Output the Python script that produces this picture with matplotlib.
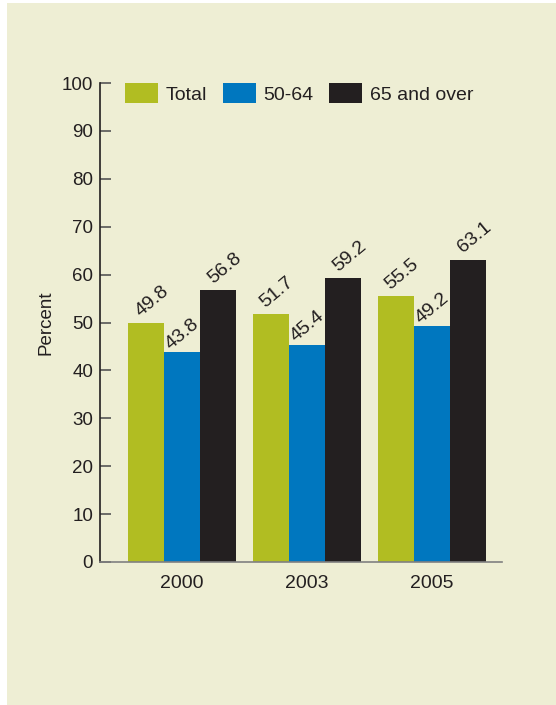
import matplotlib
matplotlib.use("Agg")
import matplotlib.pyplot as plt
import matplotlib.patches as mpatches
import numpy as np

plt.rcParams['font.family'] = ['Liberation Sans', 'DejaVu Sans']

years = ["2000", "2003", "2005"]
series_names = ["Total", "50-64", "65 and over"]
total = [49.8, 51.7, 55.5]
age_50_64 = [43.8, 45.4, 49.2]
age_65_over = [56.8, 59.2, 63.1]
yticks = [0, 10, 20, 30, 40, 50, 60, 70, 80, 90, 100]

colors = ["#B1BD22", "#0077BF", "#231F20"]
bg = "#EEEED4"
txt = "#231F20"

fig = plt.figure(figsize=(5.56, 7.05), dpi=100)
fig.patch.set_facecolor("white")
fig.patches.append(mpatches.Rectangle((7 / 556, 0), 1 - 7 / 556, 1 - 3 / 705,
                                      transform=fig.transFigure, facecolor=bg,
                                      edgecolor="none", zorder=-10))

ax = fig.add_axes([100 / 556, 1 - 562 / 705, 402 / 556, 479 / 705])
ax.set_facecolor(bg)
ax.patch.set_alpha(0)

x = np.arange(len(years))
w = 0.288
offsets = [(6, 22), (0, 18), (7, 22)]
for i, vals in enumerate([total, age_50_64, age_65_over]):
    bars = ax.bar(x + (i - 1) * w, vals, w, color=colors[i], label=series_names[i])
    for b, v in zip(bars, vals):
        ax.annotate(f"{v:.1f}", (b.get_x() + b.get_width() / 2, v),
                    xytext=offsets[i], textcoords="offset pixels",
                    ha="center", va="center", rotation=40,
                    fontsize=14, color=txt)

ax.set_xlim(-0.656, 2.56)
ax.set_ylim(0, 100)
ax.set_yticks(yticks)
ax.set_xticks(x)
ax.set_xticklabels(years)
ax.tick_params(axis="y", direction="in", length=8, width=1.2, color="#555555",
               labelsize=13.5, labelcolor=txt, pad=5)
ax.tick_params(axis="x", length=0, labelsize=14, labelcolor=txt, pad=9)

for s in ["top", "right"]:
    ax.spines[s].set_visible(False)
ax.spines["left"].set_color(txt)
ax.spines["left"].set_linewidth(1.2)
ax.spines["bottom"].set_color("#808080")
ax.spines["bottom"].set_linewidth(1.2)

ax.set_ylabel("Percent", fontsize=13.5, color=txt, labelpad=5)

leg = ax.legend(loc="upper left", bbox_to_anchor=(25 / 402, 1.0), ncol=3, frameon=False,
                fontsize=14, handlelength=1.7, handleheight=1.2, handletextpad=0.4,
                columnspacing=0.8, borderpad=0, borderaxespad=0, labelcolor=txt)

fig.savefig("out.png", dpi=100, facecolor=fig.get_facecolor())
